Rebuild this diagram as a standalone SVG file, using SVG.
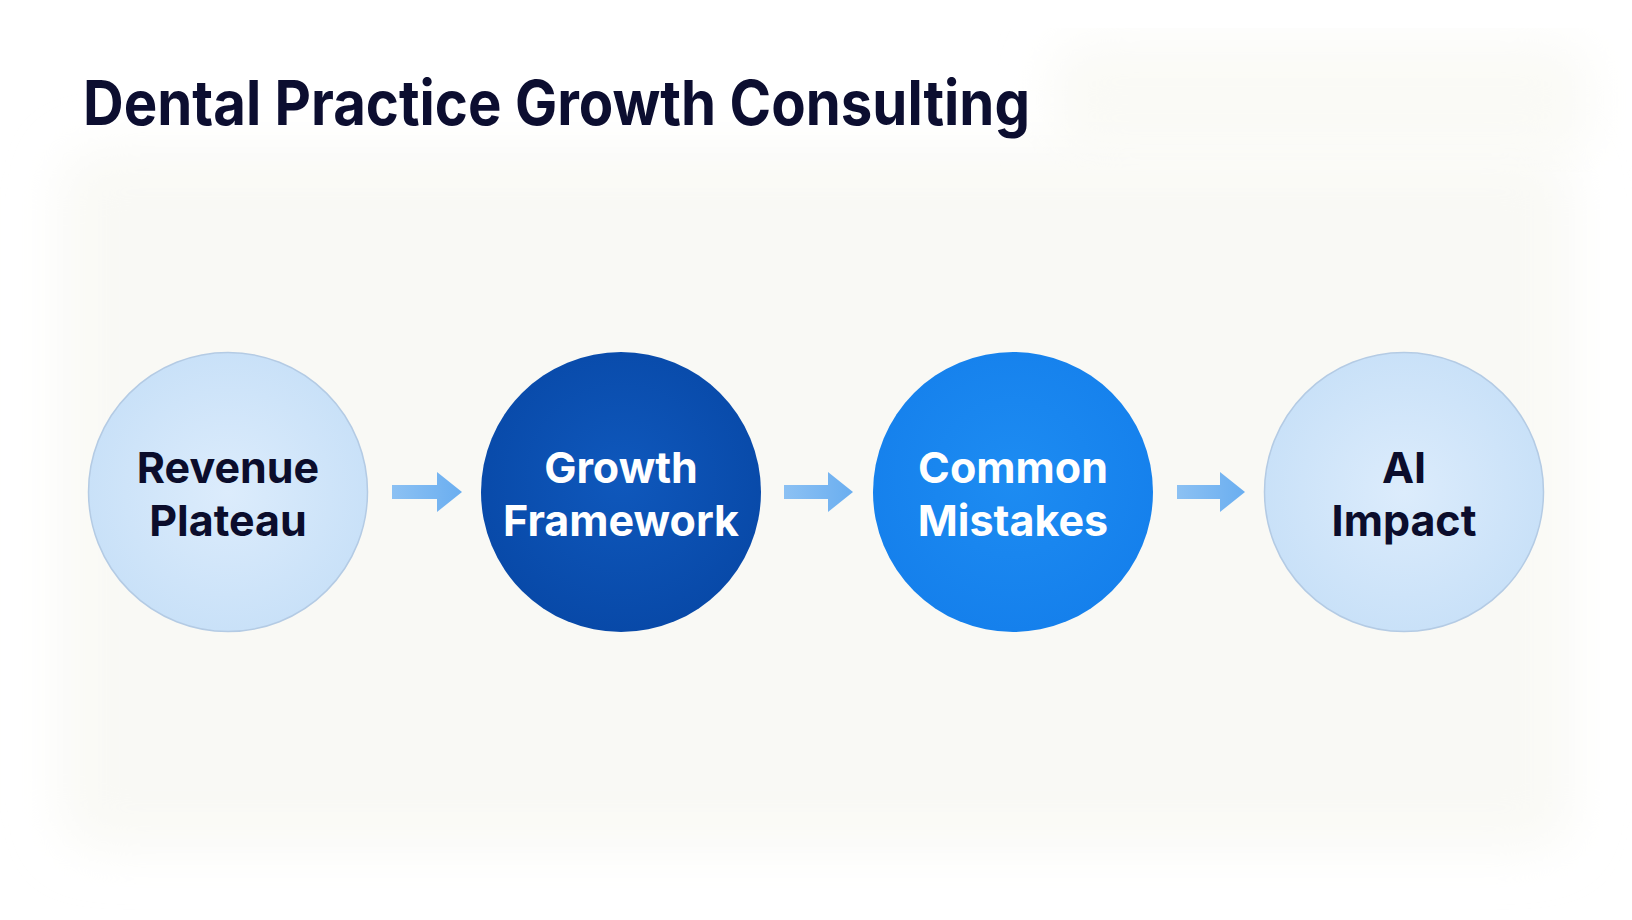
<svg xmlns="http://www.w3.org/2000/svg" width="1632" height="920" viewBox="0 0 1632 920">
  <defs>
    <style>
      .title { font-family: Inter, "Liberation Sans", sans-serif; font-weight: 700; font-size: 62px; fill: #0c0e30; }
      .lbl { font-family: Inter, "Liberation Sans", sans-serif; font-weight: 700; font-size: 43px; text-anchor: middle; }
      .dark { fill: #0b0d2c; }
      .light { fill: #ffffff; }
      .arrow { fill: url(#arrowGrad); }
    </style>
    <radialGradient id="lightGrad" cx="50%" cy="50%" r="50%">
      <stop offset="0%" stop-color="#dcecfc"/>
      <stop offset="100%" stop-color="#c9e1f8"/>
    </radialGradient>
    <radialGradient id="navyGrad" cx="50%" cy="45%" r="55%">
      <stop offset="0%" stop-color="#0f58bc"/>
      <stop offset="100%" stop-color="#0849a8"/>
    </radialGradient>
    <radialGradient id="blueGrad" cx="50%" cy="45%" r="55%">
      <stop offset="0%" stop-color="#1d8cf2"/>
      <stop offset="100%" stop-color="#1580ec"/>
    </radialGradient>
    <linearGradient id="arrowGrad" x1="0" y1="0" x2="1" y2="0">
      <stop offset="0%" stop-color="#8cc1f3"/>
      <stop offset="100%" stop-color="#6aaef0"/>
    </linearGradient>
    <filter id="soft" x="-10%" y="-10%" width="120%" height="120%">
      <feGaussianBlur stdDeviation="25"/>
    </filter>
  </defs>

  <rect width="1632" height="920" fill="#ffffff"/>
  <rect x="60" y="150" width="1512" height="700" rx="40" fill="#f9f9f5" filter="url(#soft)"/>
  <rect x="1050" y="40" width="540" height="120" rx="40" fill="#fafaf6" filter="url(#soft)"/>

  <g id="title">
    <text class="title" x="83" y="125" textLength="947" lengthAdjust="spacingAndGlyphs">Dental Practice Growth Consulting</text>
  </g>

  <g id="connectors">
    <path class="arrow" d="M392,485 H437 V472 L462,492 L437,512 V499 H392 Z"/>
    <path class="arrow" d="M784,485 H828 V472 L853,492 L828,512 V499 H784 Z"/>
    <path class="arrow" d="M1177,485 H1220 V472 L1245,492 L1220,512 V499 H1177 Z"/>
  </g>

  <g id="node-revenue-plateau">
    <circle cx="228" cy="492" r="139.5" fill="url(#lightGrad)" stroke="#b4cbe4" stroke-width="1.5"/>
    <text class="lbl dark" x="228" y="483">Revenue</text>
    <text class="lbl dark" x="228" y="536">Plateau</text>
  </g>

  <g id="node-growth-framework">
    <circle cx="621" cy="492" r="140" fill="url(#navyGrad)"/>
    <text class="lbl light" x="621" y="483">Growth</text>
    <text class="lbl light" x="621" y="536">Framework</text>
  </g>

  <g id="node-common-mistakes">
    <circle cx="1013" cy="492" r="140" fill="url(#blueGrad)"/>
    <text class="lbl light" x="1013" y="483">Common</text>
    <text class="lbl light" x="1013" y="536">Mistakes</text>
  </g>

  <g id="node-ai-impact">
    <circle cx="1404" cy="492" r="139.5" fill="url(#lightGrad)" stroke="#b4cbe4" stroke-width="1.5"/>
    <text class="lbl dark" x="1404" y="483">AI</text>
    <text class="lbl dark" x="1404" y="536">Impact</text>
  </g>
</svg>
